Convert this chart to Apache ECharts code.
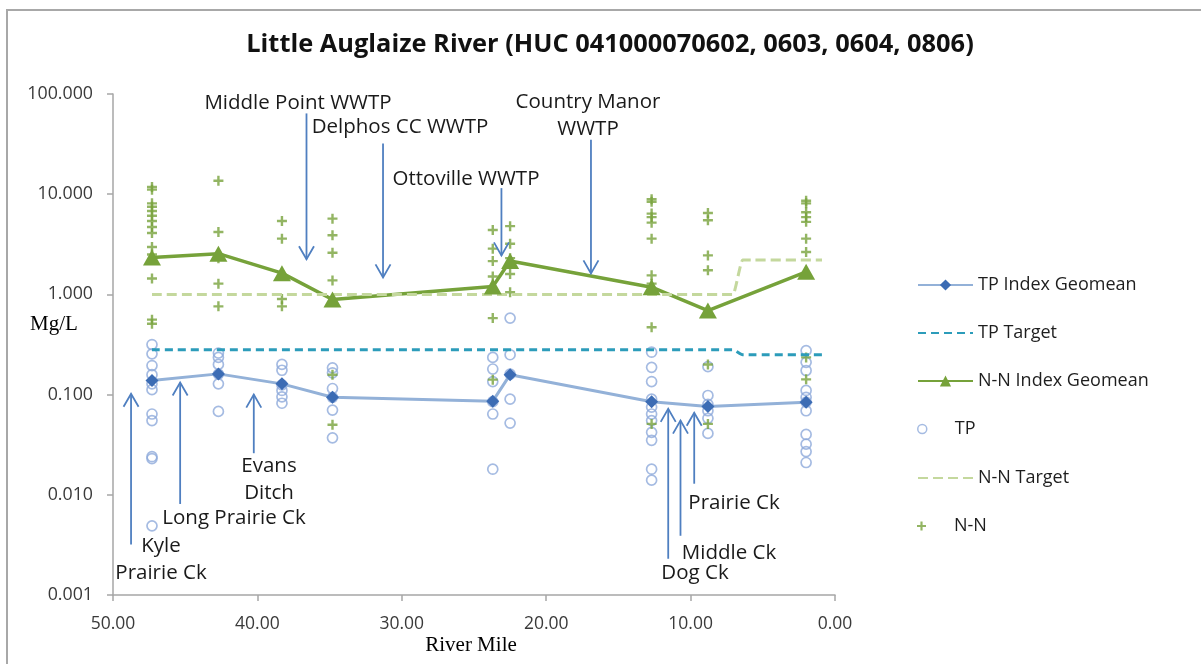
<!DOCTYPE html>
<html><head><meta charset="utf-8">
<script src="https://cdn.jsdelivr.net/npm/echarts@6/dist/echarts.min.js"></script>
<style>html,body{margin:0;padding:0;background:#fff}#c{width:1201px;height:664px}</style>
</head><body><div id="c"></div>
<script>
// ---------- DATA ----------
const siteMiles = [47.3, 42.7, 38.3, 34.8, 23.7, 22.5, 12.7, 8.8, 2.0];
const tpGeomean = [0.138, 0.161, 0.128, 0.094, 0.086, 0.158, 0.085, 0.076, 0.084];
const nnGeomean = [2.33, 2.55, 1.63, 0.89, 1.2, 2.15, 1.18, 0.69, 1.68];
const tpSamples = [
  [0.316, 0.255, 0.195, 0.158, 0.128, 0.112, 0.064, 0.055, 0.024, 0.023, 0.0049],
  [0.26, 0.235, 0.20, 0.16, 0.128, 0.068],
  [0.20, 0.175, 0.125, 0.11, 0.095, 0.082],
  [0.185, 0.165, 0.115, 0.094, 0.070, 0.037],
  [0.235, 0.18, 0.135, 0.085, 0.064, 0.018],
  [0.58, 0.25, 0.16, 0.09, 0.052],
  [0.265, 0.187, 0.135, 0.09, 0.075, 0.064, 0.055, 0.042, 0.035, 0.018, 0.014],
  [0.19, 0.098, 0.08, 0.069, 0.058, 0.041],
  [0.275, 0.21, 0.174, 0.11, 0.094, 0.084, 0.069, 0.04, 0.032, 0.027, 0.021]
];
const nnSamples = [
  [11.8, 11.1, 8.1, 7.5, 6.8, 6.1, 5.4, 4.7, 4.1, 2.97, 2.5, 1.44, 0.56, 0.51],
  [13.6, 4.2, 2.5, 2.3, 1.28, 0.76],
  [5.4, 3.6, 0.9, 0.76],
  [5.7, 3.9, 2.6, 1.38, 0.158, 0.05],
  [4.4, 2.86, 2.15, 1.51, 0.58, 0.141],
  [4.8, 3.2, 2.3, 1.6, 1.05],
  [8.9, 8.4, 6.4, 5.9, 5.2, 3.6, 1.55, 1.28, 0.47, 0.051],
  [6.5, 5.5, 2.45, 1.74, 0.2, 0.051],
  [8.6, 8.1, 6.6, 5.9, 5.3, 3.6, 2.65, 0.235, 0.142]
];
const tpTargetMiles = [47.3, 7.06, 6.4, 0.9];
const tpTargetValues = [0.28, 0.28, 0.25, 0.25];
const nnTargetMiles = [47.3, 7.06, 6.4, 0.9];
const nnTargetValues = [1.0, 1.0, 2.2, 2.2];

const annoLabels = ['Middle Point WWTP', 'Delphos CC WWTP', 'Ottoville WWTP', 'Country Manor\nWWTP',
  'Kyle\nPrairie Ck', 'Long Prairie Ck', 'Evans\nDitch', 'Dog Ck', 'Middle Ck', 'Prairie Ck'];
const annoMiles = [36.6, 31.3, 23.1, 16.9, 48.75, 45.35, 40.25, 11.55, 10.7, 9.75];
const annoTail = [64, 32, 11.5, 35, 0.0032, 0.0081, 0.026, 0.0023, 0.0039, 0.0129];
const annoHead = [2.24, 1.48, 2.45, 1.62, 0.102, 0.132, 0.1, 0.072, 0.055, 0.066];

const xTickLabels = ['0.00', '10.00', '20.00', '30.00', '40.00', '50.00'];
const seriesNames = ['TP Index Geomean', 'TP Target', 'N-N Index Geomean', 'TP', 'N-N Target', 'N-N'];

// ---------- LAYOUT / STYLE ----------
const annoTextPos = [[298, 103], [400, 127], [466, 179], [588, 116], [161, 560], [234, 518], [269, 480], [695, 573], [729, 553], [734, 503]];
const legendCenters = [285, 333, 381, 429, 478, 526];
const FONT = '"Open Sans", "Noto Sans", sans-serif';
const ARROW = '#4f7fc0';
const PLUS = 'path://M3.8,0H6.2V3.8H10V6.2H6.2V10H3.8V6.2H0V3.8H3.8Z';

const tpPts = [], nnPts = [];
siteMiles.forEach((m, i) => {
  tpSamples[i].forEach(v => tpPts.push([m, v]));
  nnSamples[i].forEach(v => nnPts.push([m, v]));
});

const chart = echarts.init(document.getElementById('c'), null, {renderer: 'canvas'});

const legendCfg = [
  {h: 14}, {h: 14, itemStyle: {opacity: 0}}, {h: 14},
  {h: 9, itemStyle: {color: 'rgba(255,255,255,0)', borderColor: '#8eaadb', borderWidth: 1.5}},
  {h: 14, itemStyle: {opacity: 0}}, {h: 9}
];
const legends = seriesNames.map((n, i) => Object.assign({
  data: [n], orient: 'vertical', left: 917, top: legendCenters[i] - 11, padding: 0,
  itemWidth: 55, itemHeight: legendCfg[i].h, itemGap: 0, selectedMode: false,
  textStyle: {fontFamily: FONT, fontSize: 18, color: '#1e1e1e', lineHeight: 22, padding: [0, 0, 0, 0]}
}, legendCfg[i].itemStyle ? {itemStyle: legendCfg[i].itemStyle} : {}));

const graphics = [
  {type: 'rect', shape: {x: 7, y: 10, width: 1220, height: 700}, style: {fill: null, stroke: '#a8a8a8', lineWidth: 2}, silent: true},
  {type: 'text', x: 610, y: 45, style: {text: 'Little Auglaize River (HUC 041000070602, 0603, 0604, 0806)', fontFamily: FONT, fontWeight: 'bold', fontSize: 25.4, fill: '#111', align: 'center', verticalAlign: 'middle'}},
  {type: 'text', x: 54, y: 324, style: {text: 'Mg/L', fontFamily: '"Liberation Serif", serif', fontSize: 21, fill: '#000', align: 'center', verticalAlign: 'middle'}},
  {type: 'text', x: 471, y: 645, style: {text: 'River Mile', fontFamily: '"Liberation Serif", serif', fontSize: 21, fill: '#000', align: 'center', verticalAlign: 'middle'}}
];
annoLabels.forEach((t, i) => graphics.push({
  type: 'text', x: annoTextPos[i][0], y: annoTextPos[i][1], z: 10,
  style: {text: t, fontFamily: FONT, fontSize: 20.5, lineHeight: 27, fill: '#1a1a1a', align: 'center', verticalAlign: 'middle'}
}));

chart.setOption({
  animation: false,
  backgroundColor: '#fff',
  grid: {left: 113, right: 366, top: 94, bottom: 69, containLabel: false},
  legend: legends,
  graphic: graphics,
  xAxis: {
    type: 'value', min: 0, max: 50, interval: 10, inverse: true,
    axisLine: {show: true, onZero: false, lineStyle: {color: '#a6a6a6', width: 1.5}},
    axisTick: {show: true, inside: false, length: 6, lineStyle: {color: '#a6a6a6', width: 1.5}},
    splitLine: {show: false},
    axisLabel: {margin: 20, fontFamily: FONT, fontSize: 17.5, color: '#3a3a3a',
      formatter: v => xTickLabels[Math.round(v / 10)]}
  },
  yAxis: {
    type: 'log', logBase: 10, min: 0.001, max: 100, position: 'left',
    axisLine: {show: true, onZero: false, lineStyle: {color: '#a6a6a6', width: 1.5}},
    axisTick: {show: true, inside: false, length: 6, lineStyle: {color: '#a6a6a6', width: 1.5}},
    splitLine: {show: false}, minorTick: {show: false},
    axisLabel: {margin: 20, fontFamily: FONT, fontSize: 17.8, color: '#3a3a3a',
      formatter: v => Number(v).toFixed(3)}
  },
  series: [
    {
      name: seriesNames[0], type: 'line',
      data: siteMiles.map((m, i) => [m, tpGeomean[i]]),
      symbol: 'diamond', symbolSize: 13, showSymbol: true,
      itemStyle: {color: '#3c6cb4'},
      lineStyle: {color: '#93b1d8', width: 3}
    },
    {
      name: seriesNames[1], type: 'line',
      data: tpTargetMiles.map((m, i) => [m, tpTargetValues[i]]),
      symbol: 'none', smooth: 0.2, smoothMonotone: 'x',
      itemStyle: {color: '#2c9cba'},
      lineStyle: {color: '#2c9cba', width: 3, type: [8, 5]}
    },
    {
      name: seriesNames[2], type: 'line',
      data: siteMiles.map((m, i) => [m, nnGeomean[i]]),
      symbol: 'triangle', symbolSize: [18, 16],
      itemStyle: {color: '#76a23a'},
      lineStyle: {color: '#76a23a', width: 3.5}
    },
    {
      name: seriesNames[3], type: 'scatter', data: tpPts,
      symbol: 'circle', symbolSize: 10,
      itemStyle: {color: 'rgba(255,255,255,0)', borderColor: '#8eaadb', borderWidth: 1.7}
    },
    {
      name: seriesNames[4], type: 'line',
      data: nnTargetMiles.map((m, i) => [m, nnTargetValues[i]]),
      symbol: 'none', smooth: 0.2, smoothMonotone: 'x',
      itemStyle: {color: '#c4d89d'},
      lineStyle: {color: '#c4d89d', width: 3, type: [10, 5]}
    },
    {
      name: seriesNames[5], type: 'scatter', data: nnPts,
      symbol: PLUS, symbolSize: 10, symbolKeepAspect: true,
      itemStyle: {color: '#78a33c'}
    },
    {
      name: 'annotations', type: 'custom', silent: true, z: 5,
      data: annoMiles.map((m, i) => [m, annoTail[i], annoHead[i]]),
      encode: {x: 0, y: [1, 2]},
      renderItem: (params, api) => {
        const tail = api.coord([api.value(0), api.value(1)]);
        const head = api.coord([api.value(0), api.value(2)]);
        const dir = head[1] > tail[1] ? 1 : -1;
        const w = 7.5, h = 13;
        return {type: 'group', children: [
          {type: 'line', shape: {x1: tail[0], y1: tail[1], x2: head[0], y2: head[1]},
            style: {stroke: ARROW, lineWidth: 1.8}},
          {type: 'polyline', shape: {points: [[head[0] - w, head[1] - dir * h], [head[0], head[1]], [head[0] + w, head[1] - dir * h]]},
            style: {stroke: ARROW, lineWidth: 1.8, fill: null}}
        ]};
      }
    }
  ]
});
</script></body></html>
